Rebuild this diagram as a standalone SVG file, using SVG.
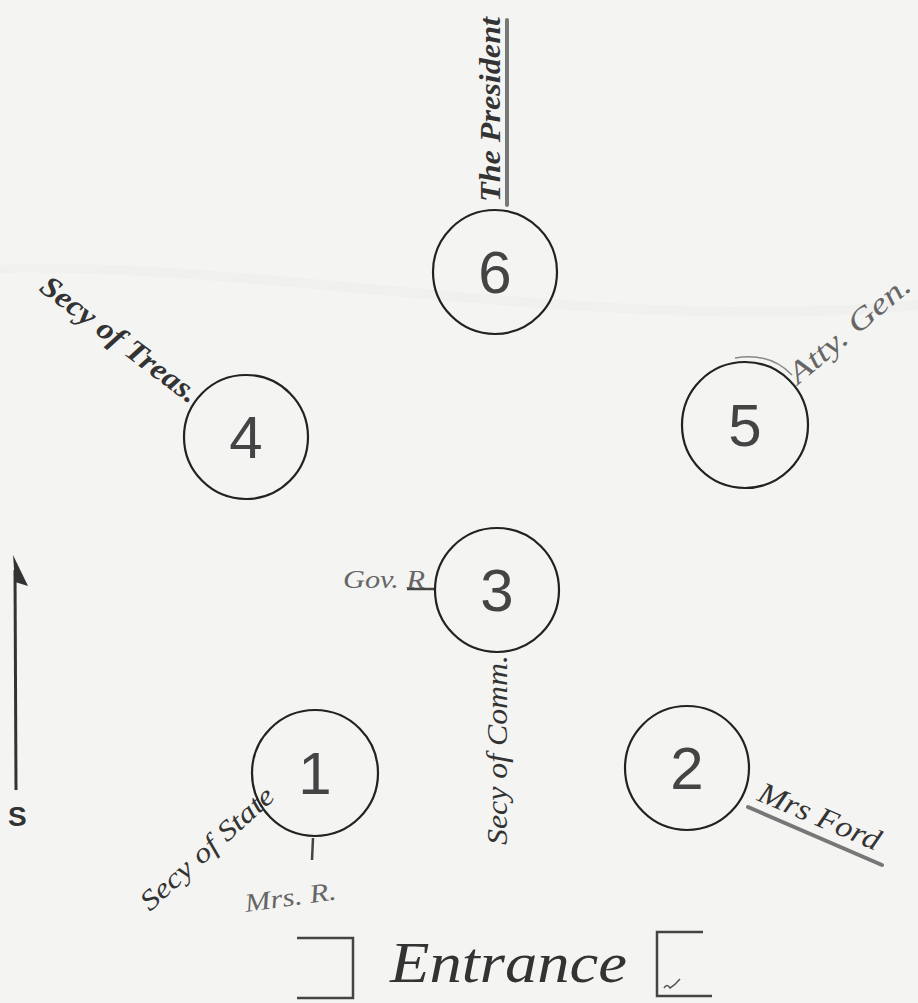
<svg xmlns="http://www.w3.org/2000/svg" width="918" height="1003" viewBox="0 0 918 1003">
<style>
.seat{fill:none;stroke:#222;stroke-width:2.2}
.num{font-family:"Liberation Sans",sans-serif;font-size:60px;fill:#444;text-anchor:middle}
.lbl{font-family:"Liberation Serif",serif;font-style:italic;fill:#333}
.gray{fill:#666}
.ink{stroke:#444;stroke-width:2.5;fill:none}
.uline{stroke:#777;stroke-width:4;fill:none;stroke-linecap:round}
</style>
<rect width="918" height="1003" fill="#f4f4f2"/>
<path d="M0 265 C 250 255, 600 330, 918 300 L918 310 C 600 338, 250 266, 0 273 Z" fill="#ececea" opacity="0.5"/>

<g id="connectors">
  <line class="uline" x1="507" y1="20" x2="507" y2="205"/>
  <line class="uline" x1="748" y1="807" x2="882" y2="865"/>
  <line class="ink" x1="407" y1="589" x2="436" y2="589" stroke-width="2"/>
  <line class="ink" x1="313" y1="838" x2="312" y2="860" stroke-width="2"/>
  <path d="M735 358 Q 770 352 792 375" fill="none" stroke="#888" stroke-width="1.5"/>
</g>

<g id="seat6"><circle class="seat" cx="495" cy="272" r="62"/><text class="num" x="495" y="293">6</text></g>
<g id="seat4"><circle class="seat" cx="246" cy="437" r="62"/><text class="num" x="246" y="458">4</text></g>
<g id="seat5"><circle class="seat" cx="745" cy="425" r="63"/><text class="num" x="745" y="446">5</text></g>
<g id="seat3"><circle class="seat" cx="497" cy="590" r="62"/><text class="num" x="497" y="611">3</text></g>
<g id="seat1"><circle class="seat" cx="315" cy="773" r="63"/><text class="num" x="315" y="794">1</text></g>
<g id="seat2"><circle class="seat" cx="687" cy="768" r="62"/><text class="num" x="687" y="789">2</text></g>

<g id="labels">
  <text class="lbl" font-size="30" font-weight="bold" transform="translate(500 202) rotate(-90)" textLength="185" lengthAdjust="spacingAndGlyphs">The President</text>
  <text class="lbl" font-size="30" font-weight="bold" transform="translate(38 290) rotate(37)" textLength="190" lengthAdjust="spacingAndGlyphs">Secy of Treas.</text>
  <text class="lbl gray" font-size="30" transform="translate(798 385) rotate(-40)" textLength="150" lengthAdjust="spacingAndGlyphs">Atty. Gen.</text>
  <text class="lbl gray" font-size="26" x="343" y="588" textLength="82" lengthAdjust="spacingAndGlyphs">Gov. R</text>
  <text class="lbl" font-size="30" transform="translate(507 845) rotate(-90)" textLength="190" lengthAdjust="spacingAndGlyphs">Secy of Comm.</text>
  <text class="lbl" font-size="28" transform="translate(150 912) rotate(-42)" textLength="170" lengthAdjust="spacingAndGlyphs">Secy of State</text>
  <text class="lbl gray" font-size="26" transform="translate(246 912) rotate(-8)" textLength="92" lengthAdjust="spacingAndGlyphs">Mrs. R.</text>
  <text class="lbl" font-size="30" transform="translate(756 800) rotate(23)" textLength="130" lengthAdjust="spacingAndGlyphs">Mrs Ford</text>
</g>

<g id="north-arrow">
  <line x1="16" y1="790" x2="15" y2="570" stroke="#333" stroke-width="3"/>
  <polygon points="13,555 28,586 15,582" fill="#333"/>
  <text x="8" y="826" font-family="Liberation Sans,sans-serif" font-size="28" font-weight="bold" fill="#333">S</text>
</g>

<g id="entrance">
  <polyline class="ink" points="297,938 353,938 353,998 297,998" stroke-width="3"/>
  <polyline class="ink" points="703,932 657,932 657,996 712,996" stroke-width="3"/>
  <path d="M664 988 q3 -5 6 0 q5 -3 10 -9" fill="none" stroke="#555" stroke-width="1.5"/>
  <text class="lbl" font-size="58" x="390" y="982" textLength="237" lengthAdjust="spacingAndGlyphs">Entrance</text>
</g>
</svg>
